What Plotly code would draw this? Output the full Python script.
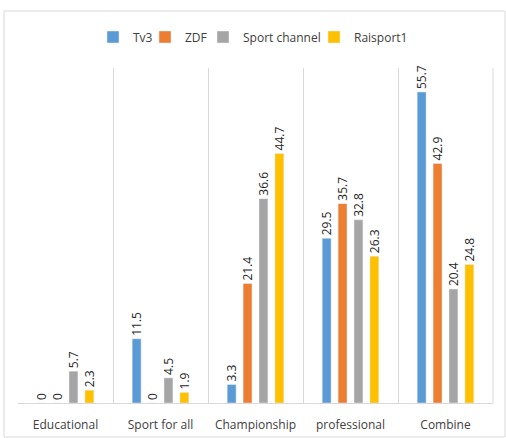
import plotly.graph_objects as go

categories = ["Educational", "Sport for all", "Championship", "professional", "Combine"]
series_names = ["Tv3", "ZDF", "Sport channel", "Raisport1"]
tv3 = [0, 11.5, 3.3, 29.5, 55.7]
zdf = [0, 0, 21.4, 35.7, 42.9]
sport_channel = [5.7, 4.5, 36.6, 32.8, 20.4]
raisport1 = [2.3, 1.9, 44.7, 26.3, 24.8]
colors = ["#5B9BD5", "#ED7D31", "#A5A5A5", "#FFC000"]

W, H = 506, 438
L, R, T, B = 18, 13, 68, 35
pw, ph = W - L - R, H - T - B


def px_x(p):
    return (p - L) / pw


def px_y(p):
    return (H - B - p) / ph


legend_ids = ["legend", "legend2", "legend3", "legend4"]
legend_sym_px = [107, 159, 217, 328]

fig = go.Figure()
for name, vals, c, lid in zip(series_names, [tv3, zdf, sport_channel, raisport1], colors, legend_ids):
    fig.add_trace(go.Bar(
        x=categories, y=vals, name=name, marker_color=c, legend=lid,
        text=[f"{v:g}" for v in vals], textposition="outside", textangle=-90,
        constraintext="none",
        textfont=dict(family="Open Sans", size=12, color="#262626"),
        cliponaxis=False,
    ))

legend_common = dict(orientation="h", yanchor="middle", y=px_y(37), xanchor="left",
                     font=dict(size=12, color="#404040"), itemwidth=30,
                     bgcolor="rgba(0,0,0,0)")

layout_legends = {}
for lid, lx in zip(legend_ids, legend_sym_px):
    layout_legends[lid] = dict(legend_common, x=px_x(lx - 14))

fig.update_layout(
    width=W, height=H,
    margin=dict(l=L, r=R, t=T, b=B, autoexpand=False),
    paper_bgcolor="white", plot_bgcolor="white",
    barmode="group", bargap=0.33, bargroupgap=0.44,
    font=dict(family="Open Sans", size=12, color="#404040"),
    showlegend=True,
    xaxis=dict(tickson="boundaries", showgrid=True, gridcolor="#D9D9D9", gridwidth=1,
               showline=True, linecolor="#D9D9D9", ticks="", ticklabelstandoff=11,
               automargin=False,
               tickfont=dict(size=12, color="#404040")),
    yaxis=dict(range=[0, 60], showgrid=False, showticklabels=False, zeroline=False,
               showline=False, automargin=False),
    shapes=[dict(type="rect", xref="paper", yref="paper",
                 x0=px_x(4), x1=px_x(505), y0=px_y(437), y1=px_y(11),
                 line=dict(color="#D9D9D9", width=1), layer="below"),
            dict(type="line", xref="paper", yref="paper", x0=1, x1=1, y0=0, y1=1,
                 line=dict(color="#D9D9D9", width=1))],
    **layout_legends,
)

fig.write_html("out.html")
